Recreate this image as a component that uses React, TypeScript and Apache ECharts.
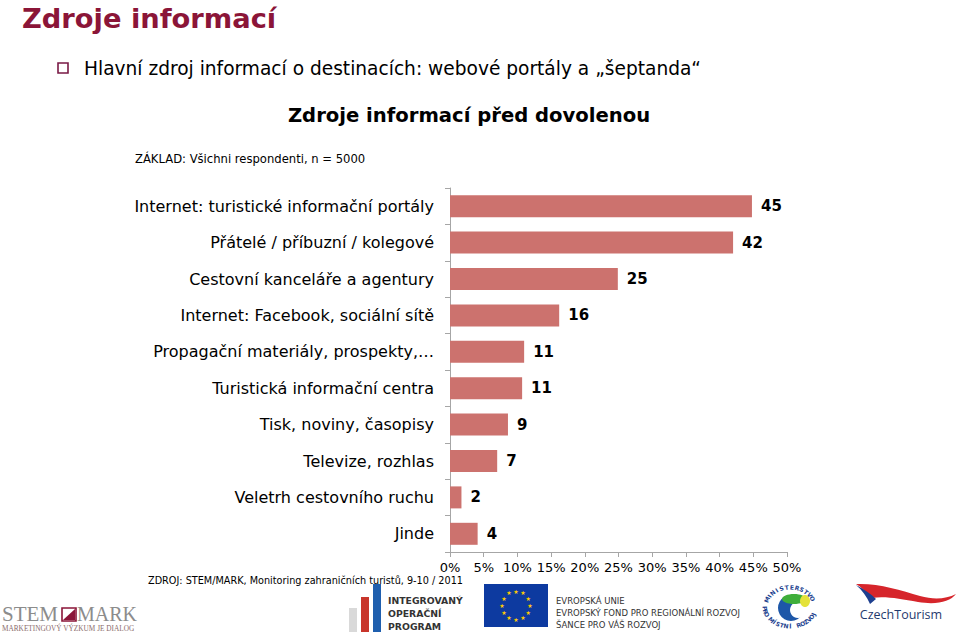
import React, { useEffect, useRef } from "react";
import * as echarts from "echarts";

const categories = [
  "Internet: turistické informační portály",
  "Přátelé / příbuzní / kolegové",
  "Cestovní kanceláře a agentury",
  "Internet: Facebook, sociální sítě",
  "Propagační materiály, prospekty,…",
  "Turistická informační centra",
  "Tisk, noviny, časopisy",
  "Televize, rozhlas",
  "Veletrh cestovního ruchu",
  "Jinde",
];
const barValues = [44.8, 42, 24.9, 16.2, 11, 10.7, 8.6, 7, 1.7, 4.1];
const barLabels = ["45", "42", "25", "16", "11", "11", "9", "7", "2", "4"];
const xTicks = { min: 0, max: 50, step: 5 };

const FONT = "DejaVu Sans";

export default function App() {
  const ref = useRef<HTMLDivElement>(null);
  useEffect(() => {
    if (!ref.current) return;
    try {
      echarts.graphic.registerShape(
        "ctRed",
        echarts.graphic.extendPath(
          "M856 584 C 878 583, 900 590, 920 596 C 934 600, 946 599, 956 594 C 950 602, 936 605, 918 602 C 900 599, 886 596, 872 598 C 866 592, 861 587, 856 584 Z",
          {}
        )
      );
      echarts.graphic.registerShape(
        "ctBlue",
        echarts.graphic.extendPath(
          "M856 585 C 864 589, 871 594, 876 599 L 870 604 C 867 597, 862 590, 856 585 Z",
          {}
        )
      );
    } catch (e) {}
    const chart = echarts.init(ref.current, null, { renderer: "svg" });

    const stars: any[] = [];
    for (let i = 0; i < 12; i++) {
      const a = (i / 12) * Math.PI * 2;
      stars.push({
        type: "text",
        x: 516 + 14 * Math.cos(a),
        y: 605 + 14 * Math.sin(a),
        style: {
          text: "★",
          fill: "#ffcc00",
          font: `6px ${FONT}`,
          align: "center",
          verticalAlign: "middle",
        },
      });
    }
    const cx = 790;
    const cy = 607;
    const arcLetters: any[] = [];
    const top = "MINISTERSTVO";
    for (let i = 0; i < top.length; i++) {
      const a = Math.PI * (1.12 + (0.74 * i) / (top.length - 1));
      arcLetters.push({
        type: "text",
        x: cx + 25 * Math.cos(a),
        y: cy + 20 * Math.sin(a),
        rotation: -(a + Math.PI / 2),
        style: {
          text: top[i],
          fill: "#1d3f8f",
          font: `bold 6px ${FONT}`,
          align: "center",
          verticalAlign: "middle",
        },
      });
    }
    const bottom = "PRO MÍSTNÍ ROZVOJ";
    for (let i = 0; i < bottom.length; i++) {
      const a = Math.PI * (0.98 - (0.86 * i) / (bottom.length - 1));
      arcLetters.push({
        type: "text",
        x: cx + 25 * Math.cos(a),
        y: cy + 19 * Math.sin(a),
        rotation: Math.PI / 2 - a,
        style: {
          text: bottom[i],
          fill: "#1d3f8f",
          font: `bold 6px ${FONT}`,
          align: "center",
          verticalAlign: "middle",
        },
      });
    }

    const smallText = (x: number, y: number, text: string, font: string, fill = "#333") => ({
      type: "text",
      x,
      y,
      style: { text, fill, font, verticalAlign: "middle" },
    });

    chart.setOption({
      animation: false,
      backgroundColor: "#ffffff",
      grid: { left: 450, top: 188, width: 337, height: 364, containLabel: false },
      xAxis: {
        type: "value",
        min: xTicks.min,
        max: xTicks.max,
        interval: xTicks.step,
        axisLine: { show: true, lineStyle: { color: "#a6a6a6" } },
        axisTick: { show: true, length: 5, lineStyle: { color: "#a6a6a6" } },
        splitLine: { show: false },
        axisLabel: {
          formatter: "{value}%",
          color: "#000",
          fontFamily: FONT,
          fontSize: 13,
          margin: 9,
        },
      },
      yAxis: {
        type: "category",
        inverse: true,
        data: categories,
        axisLine: { show: true, lineStyle: { color: "#a6a6a6" } },
        axisTick: { show: true, length: 5, lineStyle: { color: "#a6a6a6" } },
        axisLabel: {
          color: "#000",
          fontFamily: FONT,
          fontSize: 16,
          margin: 16,
        },
      },
      series: [
        {
          type: "bar",
          data: barValues,
          barWidth: 22,
          itemStyle: { color: "#CC726E" },
          label: {
            show: true,
            position: "right",
            distance: 9,
            formatter: (p: any) => barLabels[p.dataIndex],
            color: "#000",
            fontFamily: FONT,
            fontWeight: "bold",
            fontSize: 15,
          },
        },
      ],
      graphic: [
        {
          type: "text",
          x: 22,
          y: 18,
          style: {
            text: "Zdroje informací",
            fill: "#8B1538",
            font: `bold 27.3px ${FONT}`,
            verticalAlign: "middle",
          },
        },
        {
          type: "rect",
          shape: { x: 58, y: 63, width: 10, height: 10 },
          style: { fill: "#fff", stroke: "#7a1a45", lineWidth: 1.6 },
        },
        {
          type: "text",
          x: 84,
          y: 68,
          style: {
            text: "Hlavní zdroj informací o destinacích: webové portály a „šeptanda“",
            fill: "#000",
            font: `18.6px ${FONT}`,
            verticalAlign: "middle",
          },
        },
        {
          type: "text",
          x: 469,
          y: 115,
          style: {
            text: "Zdroje informací před dovolenou",
            fill: "#000",
            font: `bold 19.6px ${FONT}`,
            align: "center",
            verticalAlign: "middle",
          },
        },
        smallText(135, 159, "ZÁKLAD: Všichni respondenti, n = 5000", `11.6px ${FONT}`, "#000"),
        smallText(
          148,
          580,
          "ZDROJ: STEM/MARK, Monitoring zahraničních turistů, 9-10 / 2011",
          `9.7px ${FONT}`,
          "#000"
        ),
        // STEM/MARK logo
        smallText(2, 614, "STEM", `21px "Liberation Serif"`, "#8c8c8c"),
        {
          type: "rect",
          shape: { x: 62, y: 608, width: 14, height: 13 },
          style: { fill: "none", stroke: "#8B1538", lineWidth: 1.6 },
        },
        {
          type: "polygon",
          shape: { points: [[63, 620], [75, 609], [75, 620]] },
          style: { fill: "#8B1538" },
        },
        smallText(77, 614, "MARK", `20px "Liberation Serif"`, "#8c8c8c"),
        smallText(2, 628.5, "MARKETINGOVÝ VÝZKUM JE DIALOG", `7.3px "Liberation Serif"`, "#8a6b6b"),
        // IOP logo
        { type: "rect", shape: { x: 349, y: 608, width: 8, height: 24 }, style: { fill: "#d9d9d9" } },
        { type: "rect", shape: { x: 361, y: 597, width: 8, height: 35 }, style: { fill: "#c8352b" } },
        { type: "rect", shape: { x: 373, y: 584, width: 8, height: 48 }, style: { fill: "#1f5fae" } },
        smallText(388, 600, "INTEGROVANÝ", `bold 9.3px ${FONT}`),
        smallText(388, 613, "OPERAČNÍ", `bold 9.3px ${FONT}`),
        smallText(388, 626, "PROGRAM", `bold 9.3px ${FONT}`),
        // EU flag
        { type: "rect", shape: { x: 484, y: 584, width: 64, height: 43 }, style: { fill: "#0d3aa0" } },
        ...stars,
        smallText(556, 601, "EVROPSKÁ UNIE", `8.5px ${FONT}`),
        smallText(556, 613, "EVROPSKÝ FOND PRO REGIONÁLNÍ ROZVOJ", `8.5px ${FONT}`),
        smallText(556, 625, "ŠANCE PRO VÁŠ ROZVOJ", `8.5px ${FONT}`),
        // Ministry logo
        { type: "circle", shape: { cx: cx + 1, cy: cy + 1, r: 13 }, style: { fill: "#1d57a8" } },
        { type: "circle", shape: { cx: cx + 8, cy: cy + 3, r: 8 }, style: { fill: "#ffffff" } },
        {
          type: "ellipse",
          shape: { cx: cx + 4, cy: cy - 8, rx: 12, ry: 5 },
          style: { fill: "#3fae3a" },
        },
        {
          type: "ellipse",
          shape: { cx: cx + 15, cy: cy - 6, rx: 5, ry: 6 },
          style: { fill: "#e4e23a" },
        },
        ...arcLetters,
        // CzechTourism logo
        { type: "ctRed", x: 0, y: 0, style: { fill: "#d6252b" } },
        { type: "ctBlue", x: 0, y: 0, style: { fill: "#1d3f8f" } },
        {
          type: "text",
          x: 901,
          y: 614,
          style: {
            text: "CzechTourism",
            fill: "#1f3a6e",
            font: `12.5px "Open Sans"`,
            align: "center",
            verticalAlign: "middle",
          },
        },
      ],
    });
    return () => chart.dispose();
  }, []);
  return (
    <div
      ref={ref}
      style={{ position: "fixed", left: 0, top: 0, width: 960, height: 632 }}
    />
  );
}
